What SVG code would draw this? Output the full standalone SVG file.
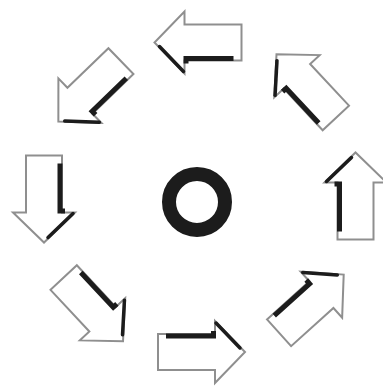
<svg xmlns="http://www.w3.org/2000/svg" xmlns:xlink="http://www.w3.org/1999/xlink" width="383" height="387" viewBox="0 0 383 387">
<style>
.o{fill:#fff;stroke:#8f8f8f;stroke-width:2;stroke-linejoin:miter}
.s{fill:none;stroke:#1c1c1c;stroke-width:5;stroke-linejoin:miter}
.h{fill:none;stroke:#1c1c1c;stroke-width:3.5;stroke-linecap:round}
</style>
<defs>
<g id="arrow">
<polygon class="o" points="-43,-18 14,-18 14,-31 44,0 14,31 14,18 -43,18"/>
<polyline class="s" points="-35,-16 12.5,-16 12.5,-21"/>
<line class="h" x1="15" y1="-29" x2="39" y2="-4"/>
</g>
</defs>
<rect width="383" height="387" fill="#fff"/>
<g id="connectors"></g>
<g id="ring"><circle cx="197" cy="202" r="28" fill="none" stroke="#1c1c1c" stroke-width="14"/></g>
<g id="arrow-top"><use xlink:href="#arrow" transform="translate(198.5,42.5) rotate(180)"/></g>
<g id="arrow-top-right"><use xlink:href="#arrow" transform="translate(306.5,86.5) rotate(-133)"/></g>
<g id="arrow-right"><use xlink:href="#arrow" transform="translate(355.5,196.5) rotate(-90)"/></g>
<g id="arrow-bottom-right"><use xlink:href="#arrow" transform="translate(311,304) rotate(-42)"/></g>
<g id="arrow-bottom"><use xlink:href="#arrow" transform="translate(201,352) rotate(0)"/></g>
<g id="arrow-bottom-left"><use xlink:href="#arrow" transform="translate(93,309) rotate(47)"/></g>
<g id="arrow-left"><use xlink:href="#arrow" transform="translate(44,198.5) rotate(90)"/></g>
<g id="arrow-top-left"><use xlink:href="#arrow" transform="translate(90,91) rotate(136)"/></g>
</svg>
